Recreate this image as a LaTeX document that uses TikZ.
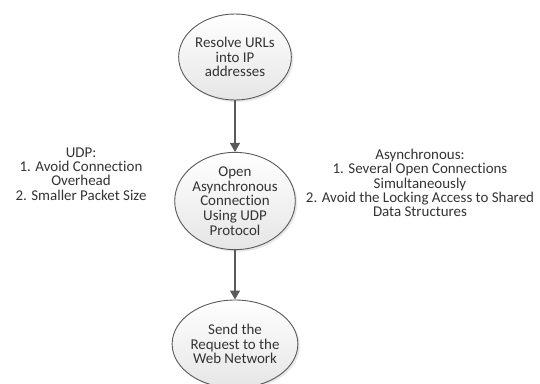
\documentclass[tikz,border=0pt]{standalone}
\usepackage{fontspec}
\setmainfont{Carlito}[Ligatures={NoCommon}]
\usetikzlibrary{shapes.geometric,arrows.meta,shadows}
\definecolor{edgegray}{HTML}{595959}
\definecolor{txtgray}{HTML}{333333}
\tikzset{
  proc/.style={ellipse, draw=edgegray, line width=0.9bp, inner sep=0pt,
    top color=white, bottom color=black!10, align=center,
    drop shadow={opacity=0.18, shadow xshift=2bp, shadow yshift=-2bp},
    font=\fontsize{15}{14.8}\selectfont, text=txtgray},
  note/.style={align=center, font=\fontsize{15}{14.3}\selectfont, text=txtgray},
  flow/.style={draw=edgegray, line width=1.1bp, -{Triangle[width=10bp,length=9bp]}}
}
\begin{document}
\begin{tikzpicture}[x=1bp,y=-1bp]
\useasboundingbox (0,0) rectangle (540,383);
\node[proc, minimum width=112bp, minimum height=86bp] (a) at (235,57) {Resolve URLs\\into IP\\addresses};
\node[proc, minimum width=110bp, minimum height=94bp] (b) at (235,201) {Open\\Asynchronous\\Connection\\Using UDP\\Protocol};
\node[proc, minimum width=112bp, minimum height=88bp] (c) at (235,344) {Send the\\Request to the\\Web Network};
\node[note] (udp) at (81,174) {UDP:\\1. Avoid Connection\\Overhead\\2. Smaller Packet Size};
\node[note] (async) at (420,183) {Asynchronous:\\1. Several Open Connections\\Simultaneously\\2. Avoid the Locking Access to Shared\\Data Structures};
\draw[flow] (a) -- (b);
\draw[flow] (b) -- (c);
\end{tikzpicture}
\end{document}
